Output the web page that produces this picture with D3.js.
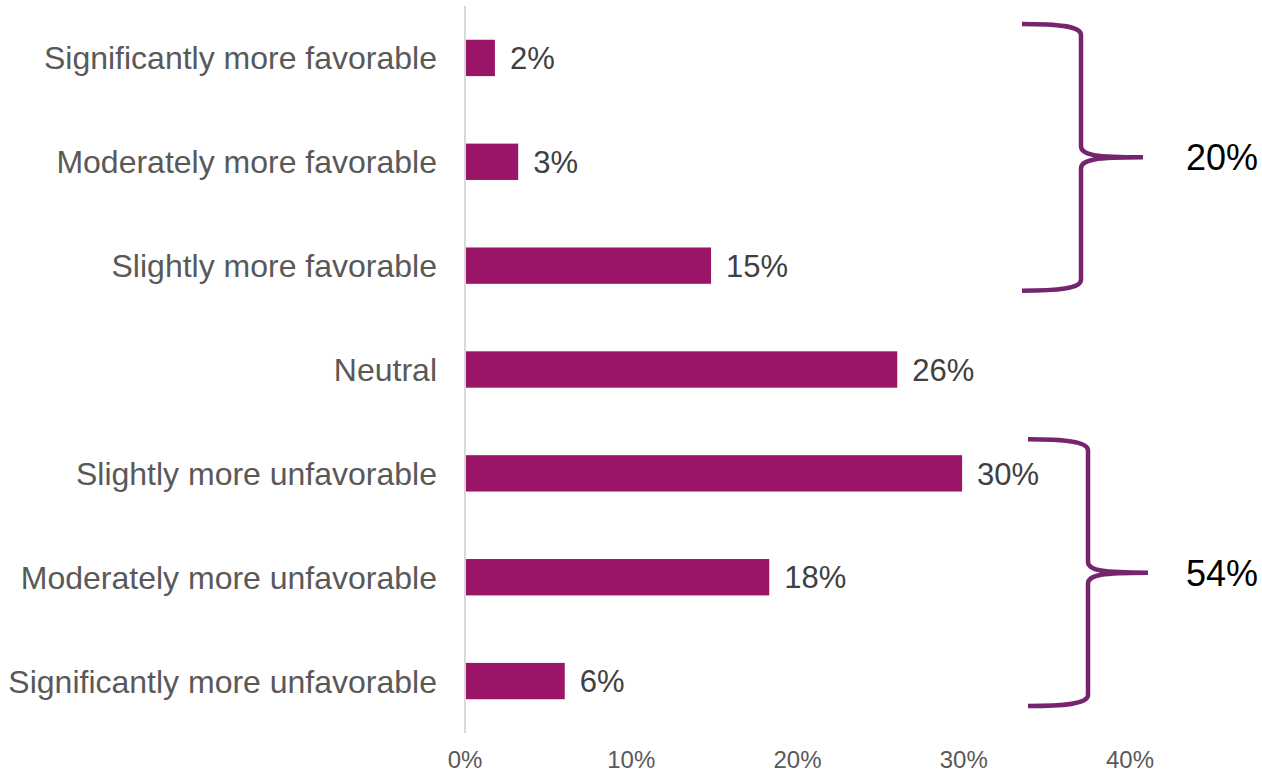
<!DOCTYPE html>
<html>
<head>
<meta charset="utf-8">
<script src="https://cdn.jsdelivr.net/npm/d3@7/dist/d3.min.js"></script>
<style>
  body { margin: 0; background: #fff; }
  text { font-family: "Liberation Sans", Arial, sans-serif; }
</style>
</head>
<body>
<svg id="chart"></svg>
<script>
// data
const categories = [
  "Significantly more favorable",
  "Moderately more favorable",
  "Slightly more favorable",
  "Neutral",
  "Slightly more unfavorable",
  "Moderately more unfavorable",
  "Significantly more unfavorable"
];
const values = [0.018, 0.032, 0.148, 0.26, 0.299, 0.183, 0.06];
const valueLabels = ["2%", "3%", "15%", "26%", "30%", "18%", "6%"];
const xTicks = [0, 0.1, 0.2, 0.3, 0.4];

// brace groupings: first category, last category, total label
const groupFirst = [0, 4];
const groupLast = [2, 6];
const groupTotals = ["20%", "54%"];

const width = 1262, height = 773;
const margin = { top: 6, right: 132, bottom: 40, left: 465 };

const svg = d3.select("#chart")
    .attr("width", width)
    .attr("height", height);

const x = d3.scaleLinear()
    .domain([0, 0.4])
    .range([margin.left, width - margin.right]);

const y = d3.scaleBand()
    .domain(categories)
    .range([margin.top, height - margin.bottom])
    .paddingInner(0.65)
    .paddingOuter(0.325);

const data = categories.map((c, i) => ({ cat: c, value: values[i], label: valueLabels[i] }));

// vertical axis line
svg.append("line")
    .attr("x1", x(0)).attr("x2", x(0))
    .attr("y1", margin.top).attr("y2", height - margin.bottom)
    .attr("stroke", "#d9d9d9")
    .attr("stroke-width", 2);

// bars
svg.selectAll(".bar")
    .data(data)
  .join("rect")
    .attr("class", "bar")
    .attr("x", x(0) + 1)
    .attr("y", d => y(d.cat))
    .attr("width", d => x(d.value) - x(0) - 1)
    .attr("height", y.bandwidth())
    .attr("fill", "#9a1567");

// value labels
svg.selectAll(".val")
    .data(data)
  .join("text")
    .attr("class", "val")
    .attr("x", d => x(d.value) + 15)
    .attr("y", d => y(d.cat) + y.bandwidth() / 2)
    .attr("dy", "0.36em")
    .attr("font-size", "31px")
    .attr("fill", "#404040")
    .text(d => d.label);

// category labels
svg.selectAll(".cat")
    .data(data)
  .join("text")
    .attr("class", "cat")
    .attr("x", x(0) - 28)
    .attr("y", d => y(d.cat) + y.bandwidth() / 2)
    .attr("dy", "0.36em")
    .attr("text-anchor", "end")
    .attr("font-size", "32px")
    .attr("fill", "#595959")
    .text(d => d.cat);

// x tick labels
svg.selectAll(".tick-label")
    .data(xTicks)
  .join("text")
    .attr("class", "tick-label")
    .attr("x", d => x(d))
    .attr("y", 768)
    .attr("text-anchor", "middle")
    .attr("font-size", "24px")
    .attr("fill", "#595959")
    .text(d3.format(".0%"));

// curly braces
const braceX = [[1022, 1081, 1143], [1028, 1088, 1148]];
const totalX = 1186;
const groups = groupFirst.map((f, i) => {
    const top = y(categories[f]) + y.bandwidth() / 2 - 34;
    const bottom = y(categories[groupLast[i]]) + y.bandwidth() / 2 + 25;
    return { top, bottom, mid: (top + bottom) / 2, xs: braceX[i], total: groupTotals[i] };
});

function bracePath(g) {
    const [x0, xs, xt] = g.xs;
    const r = 11;
    const p = d3.path();
    p.moveTo(x0, g.top);
    p.bezierCurveTo(x0 + 35, g.top, xs, g.top + 2, xs, g.top + r);
    p.lineTo(xs, g.mid - r);
    p.bezierCurveTo(xs, g.mid - 2, xs + 15, g.mid, xt, g.mid);
    p.bezierCurveTo(xs + 15, g.mid, xs, g.mid + 2, xs, g.mid + r);
    p.lineTo(xs, g.bottom - r);
    p.bezierCurveTo(xs, g.bottom - 2, x0 + 35, g.bottom, x0, g.bottom);
    return p.toString();
}

svg.selectAll(".brace")
    .data(groups)
  .join("path")
    .attr("class", "brace")
    .attr("d", bracePath)
    .attr("fill", "none")
    .attr("stroke", "#76246e")
    .attr("stroke-width", 4.5);

svg.selectAll(".total")
    .data(groups)
  .join("text")
    .attr("class", "total")
    .attr("x", totalX)
    .attr("y", d => d.mid)
    .attr("dy", "0.36em")
    .attr("font-size", "36px")
    .attr("fill", "#000")
    .text(d => d.total);
</script>
</body>
</html>
